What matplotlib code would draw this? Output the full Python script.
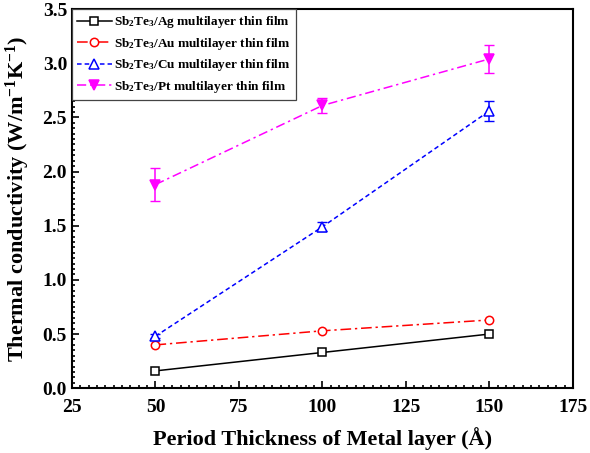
import matplotlib
matplotlib.use("Agg")
import matplotlib.pyplot as plt
from matplotlib.ticker import MultipleLocator

plt.rcParams['font.family'] = 'Liberation Serif'
plt.rcParams['font.weight'] = 'bold'
plt.rcParams['mathtext.default'] = 'regular'

# data
thickness = [50, 100, 150]
ag = [0.16, 0.33, 0.50]
au = [0.40, 0.53, 0.63]
cu = [0.48, 1.49, 2.56]
cu_err = [0.02, 0.04, 0.09]
pt = [1.88, 2.61, 3.04]
pt_err = [0.15, 0.07, 0.13]

labels = ["Sb$_2$Te$_3$/Ag multilayer thin film",
          "Sb$_2$Te$_3$/Au multilayer thin film",
          "Sb$_2$Te$_3$/Cu multilayer thin film",
          "Sb$_2$Te$_3$/Pt multilayer thin film"]

fig = plt.figure(figsize=(5.9, 4.53), dpi=100)
ax = fig.add_axes([0.122, 0.143, 0.849, 0.837])

# error bars first, lines + markers on top
ax.errorbar(thickness, cu, yerr=cu_err, fmt='none', ecolor='blue', capsize=3.5, elinewidth=1.1)
ax.errorbar(thickness, pt, yerr=pt_err, fmt='none', ecolor='magenta', capsize=3.5, elinewidth=1.1)

ax.plot(thickness, ag, color='black', ls='-', lw=1.1, marker='s', ms=6,
        mfc='white', mew=1.1, label=labels[0])
ax.plot(thickness, au, color='red', ls=(0, (7, 2.5, 1.5, 2.5)), lw=1.1, marker='o', ms=6,
        mfc='white', mew=1.1, label=labels[1])
ax.plot(thickness, cu, color='blue', ls=(0, (3, 2)), lw=1.1, marker='^', ms=7,
        mfc='white', mew=1.1, label=labels[2])
ax.plot(thickness, pt, color='magenta', ls=(0, (6, 2.5, 1.5, 2.5)), lw=1.1,
        marker='v', ms=7, mew=1.1, label=labels[3])

ax.set_xlim(25, 175)
ax.set_ylim(0, 3.5)
ax.xaxis.set_major_locator(MultipleLocator(25))
ax.xaxis.set_minor_locator(MultipleLocator(2.5))
ax.yaxis.set_major_locator(MultipleLocator(0.5))
ax.yaxis.set_minor_locator(MultipleLocator(0.05))
ax.yaxis.set_major_formatter(matplotlib.ticker.FormatStrFormatter('%.1f'))
ax.tick_params(which='both', direction='in', labelsize=14, width=1.2)
ax.tick_params(which='major', length=5)
ax.tick_params(which='minor', length=2.5)
ax.tick_params(axis='x', pad=8)
for s in ax.spines.values():
    s.set_linewidth(1.5)

ax.set_xlabel("Period Thickness of Metal layer (Å)", fontsize=16, fontweight='bold', labelpad=8)
ax.set_ylabel("Thermal conductivity (W/m$^{-1}$K$^{-1}$)", fontsize=16, fontweight='bold', labelpad=8)

leg = ax.legend(loc='upper left', borderaxespad=0, fontsize=9.5, fancybox=False,
                edgecolor='#444444', handlelength=2.6, handletextpad=0.2,
                labelspacing=0.42, borderpad=0.4, framealpha=1)
leg.get_frame().set_linewidth(0.9)

fig.savefig('out.png', dpi=100)
